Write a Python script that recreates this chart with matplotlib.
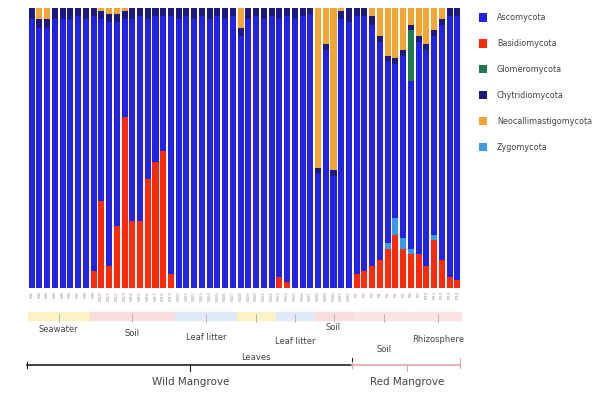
import matplotlib
matplotlib.use("Agg")
import matplotlib.pyplot as plt
from matplotlib.patches import Patch
import numpy as np

# ---- data: relative abundance (%) per sample ----
samples = [f"W{i+1}" for i in range(42)] + [f"R{i+1}" for i in range(14)]

basidiomycota = [0, 0, 0, 0, 0, 0, 0, 0, 6, 31, 8, 22, 61, 24, 24, 39, 45, 49,
                 5, 0, 0, 0, 0, 0, 0, 0, 0, 0, 0, 0, 0, 0, 4, 2, 0, 0,
                 0, 0, 0, 0, 0, 0,
                 5, 6, 8, 10, 14, 19, 14, 12, 12, 8, 17, 10, 4, 3]
zygomycota = [0] * 42 + [0, 0, 0, 0, 2, 6, 4, 2, 0, 0, 2, 0, 0, 0]
neocallimastigomycota = [0, 4, 4, 0, 0, 0, 0, 0, 0, 1, 2, 2, 1, 0, 0, 0, 0, 0,
                         0, 0, 0, 0, 0, 0, 0, 0, 0, 7, 0, 0, 0, 0, 0, 0, 0, 0,
                         0, 57, 13, 58, 1, 0,
                         0, 0, 3, 10, 17, 18, 15, 6, 10, 13, 8, 4, 0, 0]
glomeromycota = [0] * 42 + [0, 0, 0, 0, 0, 0, 0, 18, 0, 0, 0, 0, 0, 0]
chytridiomycota = [4, 3, 3, 4, 4, 4, 3, 4, 3, 3, 3, 3, 3, 4, 3, 4, 3, 3,
                   3, 4, 3, 4, 3, 4, 3, 4, 3, 3, 4, 3, 4, 3, 4, 3, 4, 3,
                   2, 2, 2, 2, 3, 5,
                   3, 3, 3, 2, 2, 2, 2, 2, 2, 2, 2, 2, 3, 3]
ascomycota = [100 - b - z - n - g - c for b, z, n, g, c in
              zip(basidiomycota, zygomycota, neocallimastigomycota,
                  glomeromycota, chytridiomycota)]

# sub-groups (label, first index, last index, band colour, label y px)
groups = [("Seawater", 0, 7, "#fbf3c4", 330),
          ("Soil", 8, 18, "#f9dcdc", 333),
          ("Leaf litter", 19, 26, "#dfe9f8", 338),
          ("Leaves", 27, 31, "#fbf3c4", 358),
          ("Leaf litter", 32, 36, "#dfe9f8", 342),
          ("Soil", 37, 41, "#f9dcdc", 328),
          ("Soil", 42, 49, "#fbe3e3", 350),
          ("Rhizosphere", 50, 55, "#fbe3e3", 340)]
sites = [("Wild Mangrove", 0, 41, "#222222"),
         ("Red Mangrove", 42, 55, "#e9a3a8")]

phyla = ["Ascomycota", "Basidiomycota", "Glomeromycota",
         "Chytridiomycota", "Neocallimastigomycota", "Zygomycota"]
colors = {"Ascomycota": "#2222e2", "Basidiomycota": "#ff2a0c",
          "Glomeromycota": "#1f7a50", "Chytridiomycota": "#1c1a80",
          "Neocallimastigomycota": "#f4a634", "Zygomycota": "#3c9be8"}

W, H = 601, 394
fig = plt.figure(figsize=(W / 100, H / 100), dpi=100)
ax = fig.add_axes([27 / W, 1 - 288 / H, (462 - 27) / W, 280 / H])

x = np.arange(len(samples))
stack = [("Basidiomycota", basidiomycota), ("Zygomycota", zygomycota),
         ("Ascomycota", ascomycota), ("Glomeromycota", glomeromycota),
         ("Chytridiomycota", chytridiomycota),
         ("Neocallimastigomycota", neocallimastigomycota)]
bottom = np.zeros(len(samples))
for name, vals in stack:
    vals = np.array(vals, dtype=float)
    ax.bar(x, vals, bottom=bottom, width=0.78, color=colors[name],
           linewidth=0)
    bottom += vals

ax.set_xlim(-0.6, len(samples) - 0.4)
ax.set_ylim(0, 100)
for s in ax.spines.values():
    s.set_visible(False)
ax.set_yticks([])
ax.set_xticks(x)
ax.set_xticklabels(samples, rotation=90, fontsize=3.2, color="#9a9a9a")
ax.tick_params(axis="x", length=0, pad=2)


def yf(py):
    """pixel row -> axes fraction"""
    return (288 - py) / 280


trans = ax.get_xaxis_transform()
for label, i0, i1, band, ly in groups:
    ax.add_patch(plt.Rectangle((i0 - 0.45, yf(320)), i1 - i0 + 0.9,
                               yf(312) - yf(320), transform=trans,
                               color=band, clip_on=False, zorder=0))
    mid = (i0 + i1) / 2
    ax.plot([mid, mid], [yf(314), yf(322)], transform=trans, color="#b0b0b0",
            lw=0.6, clip_on=False)
    ax.text(mid, yf(ly), label, transform=trans, ha="center", va="center",
            fontsize=6, color="#444444")

for label, i0, i1, col in sites:
    ax.plot([i0 - 0.6, i1 + 0.4], [yf(365), yf(365)], transform=trans,
            color=col, lw=1.2, clip_on=False)
    ax.plot([i0 - 0.6, i0 - 0.6], [yf(362), yf(368)], transform=trans,
            color=col, lw=0.8, clip_on=False)
    ax.plot([i1 + 0.4, i1 + 0.4], [yf(358), yf(368)], transform=trans,
            color=col, lw=0.8, clip_on=False)
    mid = (i0 + i1) / 2
    ax.plot([mid, mid], [yf(365), yf(371)], transform=trans, color=col,
            lw=0.8, clip_on=False)
    ax.text(mid, yf(382), label, transform=trans, ha="center", va="center",
            fontsize=7.5, color="#444444")

handles = [Patch(facecolor=colors[p], edgecolor="none", label=p)
           for p in phyla]
fig.legend(handles=handles, loc="upper left",
           bbox_to_anchor=(472 / W, 1 - 6 / H), frameon=False, fontsize=5.8,
           handlelength=1.0, handleheight=1.2, labelspacing=2.1,
           handletextpad=1.2, labelcolor="#444444")

fig.savefig("out.png", dpi=100)
